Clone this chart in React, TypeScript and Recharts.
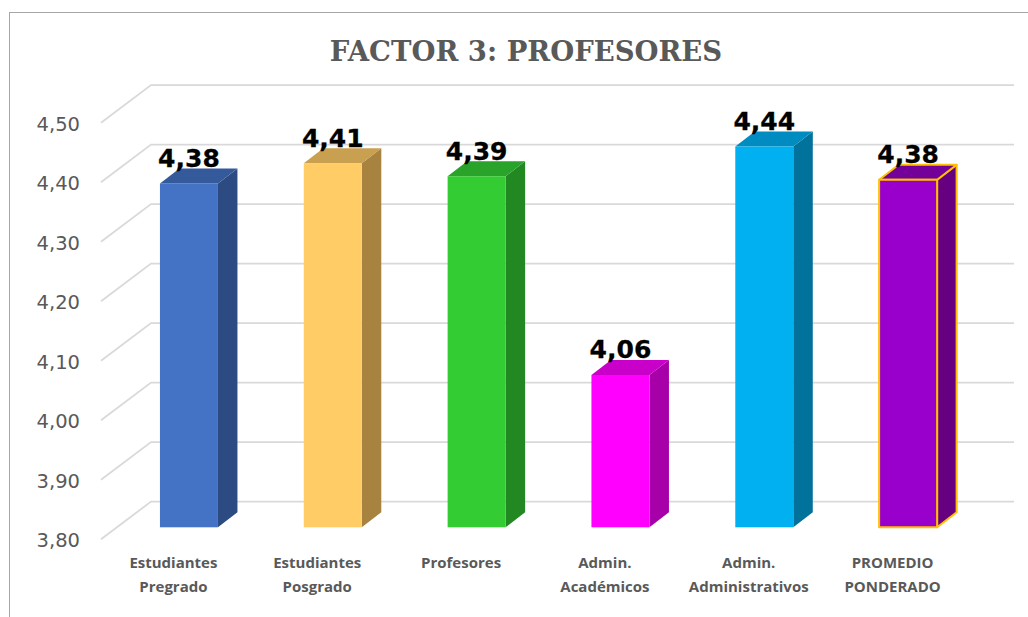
import React from "react";
import { BarChart, Bar, XAxis, YAxis, CartesianGrid, LabelList } from "recharts";

const categories = [
  "Estudiantes\nPregrado",
  "Estudiantes\nPosgrado",
  "Profesores",
  "Admin.\nAcadémicos",
  "Admin.\nAdministrativos",
  "PROMEDIO\nPONDERADO",
];
const values = [4.378, 4.412, 4.39, 4.056, 4.44, 4.384];
const yTicks = [3.8, 3.9, 4.0, 4.1, 4.2, 4.3, 4.4, 4.5];
const frontColors = ["#4472C4", "#FFCC66", "#33CC33", "#FF00FF", "#00B0F0", "#9900CC"];
const topColors = ["#345A9C", "#C8A050", "#29A329", "#C900C9", "#008CC0", "#730099"];
const sideColors = ["#2C4B82", "#A8833F", "#228822", "#A800A8", "#00729C", "#660080"];
const strokes = ["none", "none", "none", "none", "none", "#FFC000"];

const data = categories.map((name, i) => ({ name, value: values[i] }));

const fmt = (v: number) => v.toFixed(2).replace(".", ",");

// 3D projection constants
const BAR_DX = 15.8;
const BAR_DY = -12;
const DEPTH_X = 19.5;
const DEPTH_Y = -15;
const WALL_X = 50;
const WALL_Y = -37.7;

const Bar3D = (p: any) => {
  const i = p.index;
  const x = p.x + BAR_DX;
  const y = p.y + BAR_DY;
  const w = p.width;
  const h = p.height;
  const s = strokes[i];
  const sw = s === "none" ? 0 : 2;
  return (
    <g stroke={s} strokeWidth={sw} strokeLinejoin="round">
      <polygon
        points={`${x + w},${y} ${x + w + DEPTH_X},${y + DEPTH_Y} ${x + w + DEPTH_X},${y + h + DEPTH_Y} ${x + w},${y + h}`}
        fill={sideColors[i]}
      />
      <polygon
        points={`${x},${y} ${x + DEPTH_X},${y + DEPTH_Y} ${x + w + DEPTH_X},${y + DEPTH_Y} ${x + w},${y}`}
        fill={topColors[i]}
      />
      <rect x={x} y={y} width={w} height={h} fill={frontColors[i]} />
    </g>
  );
};

const GridLine = (p: any) => (
  <path
    key={p.key}
    d={`M${p.x1},${p.y1} L${p.x1 + WALL_X},${p.y1 + WALL_Y} L${p.x2 + WALL_X},${p.y2 + WALL_Y}`}
    fill="none"
    stroke="#D9D9D9"
    strokeWidth={1.8}
  />
);

const XTick = (p: any) => {
  const lines = String(p.payload.value).split("\n");
  return (
    <text
      x={p.x + 0.5}
      y={0}
      textAnchor="middle"
      fontFamily="'Open Sans', sans-serif"
      fontWeight={700}
      fontSize={15}
      fill="#595959"
    >
      {lines.map((l: string, k: number) => (
        <tspan key={k} x={p.x + 0.5} y={568 + k * 24}>
          {l}
        </tspan>
      ))}
    </text>
  );
};

const ValueLabel = (p: any) => (
  <text
    x={p.x + p.width / 2 + BAR_DX}
    y={p.y + BAR_DY - 16.5}
    textAnchor="middle"
    fontFamily="'DejaVu Sans', sans-serif"
    fontWeight={700}
    fontSize={25}
    stroke="#000000"
    strokeWidth={0.3}
    fill="#000000"
  >
    {fmt(p.value)}
  </text>
);

export default function App() {
  return (
    <div style={{ position: "absolute", left: 0, top: 0, width: 1028, height: 617, overflow: "hidden", background: "#fff" }}>
      <div style={{ position: "absolute", left: 9, top: 12, right: -4, bottom: -4, borderLeft: "1.5px solid #A6A6A6", borderTop: "1.5px solid #A6A6A6" }} />
      <div
        style={{
          position: "absolute",
          left: 0,
          width: 1052,
          top: 33,
          textAlign: "center",
          fontFamily: "'DejaVu Serif', serif",
          fontWeight: 700,
          fontSize: 27.5,
          lineHeight: "36px",
          color: "#595959",
        }}
      >
        FACTOR 3: PROFESORES
      </div>
      <BarChart
        width={1028}
        height={617}
        data={data}
        barCategoryGap="30%"
        margin={{ top: 122.8, right: 64, bottom: 17.7, left: 0 }}
        style={{ position: "absolute", left: 0, top: 0 }}
      >
        <CartesianGrid vertical={false} horizontal={GridLine as any} />
        <XAxis dataKey="name" interval={0} axisLine={false} tickLine={false} height={60} tick={XTick as any} />
        <YAxis
          width={101}
          domain={[3.8, 4.5]}
          ticks={yTicks}
          tickFormatter={fmt}
          axisLine={false}
          tickLine={false}
          tickMargin={15}
          tick={{ fontFamily: "'DejaVu Sans', sans-serif", fontSize: 19.5, fill: "#595959", dy: 1 }}
        />
        <Bar dataKey="value" isAnimationActive={false} shape={Bar3D as any}>
          <LabelList dataKey="value" content={ValueLabel as any} />
        </Bar>
      </BarChart>
    </div>
  );
}
